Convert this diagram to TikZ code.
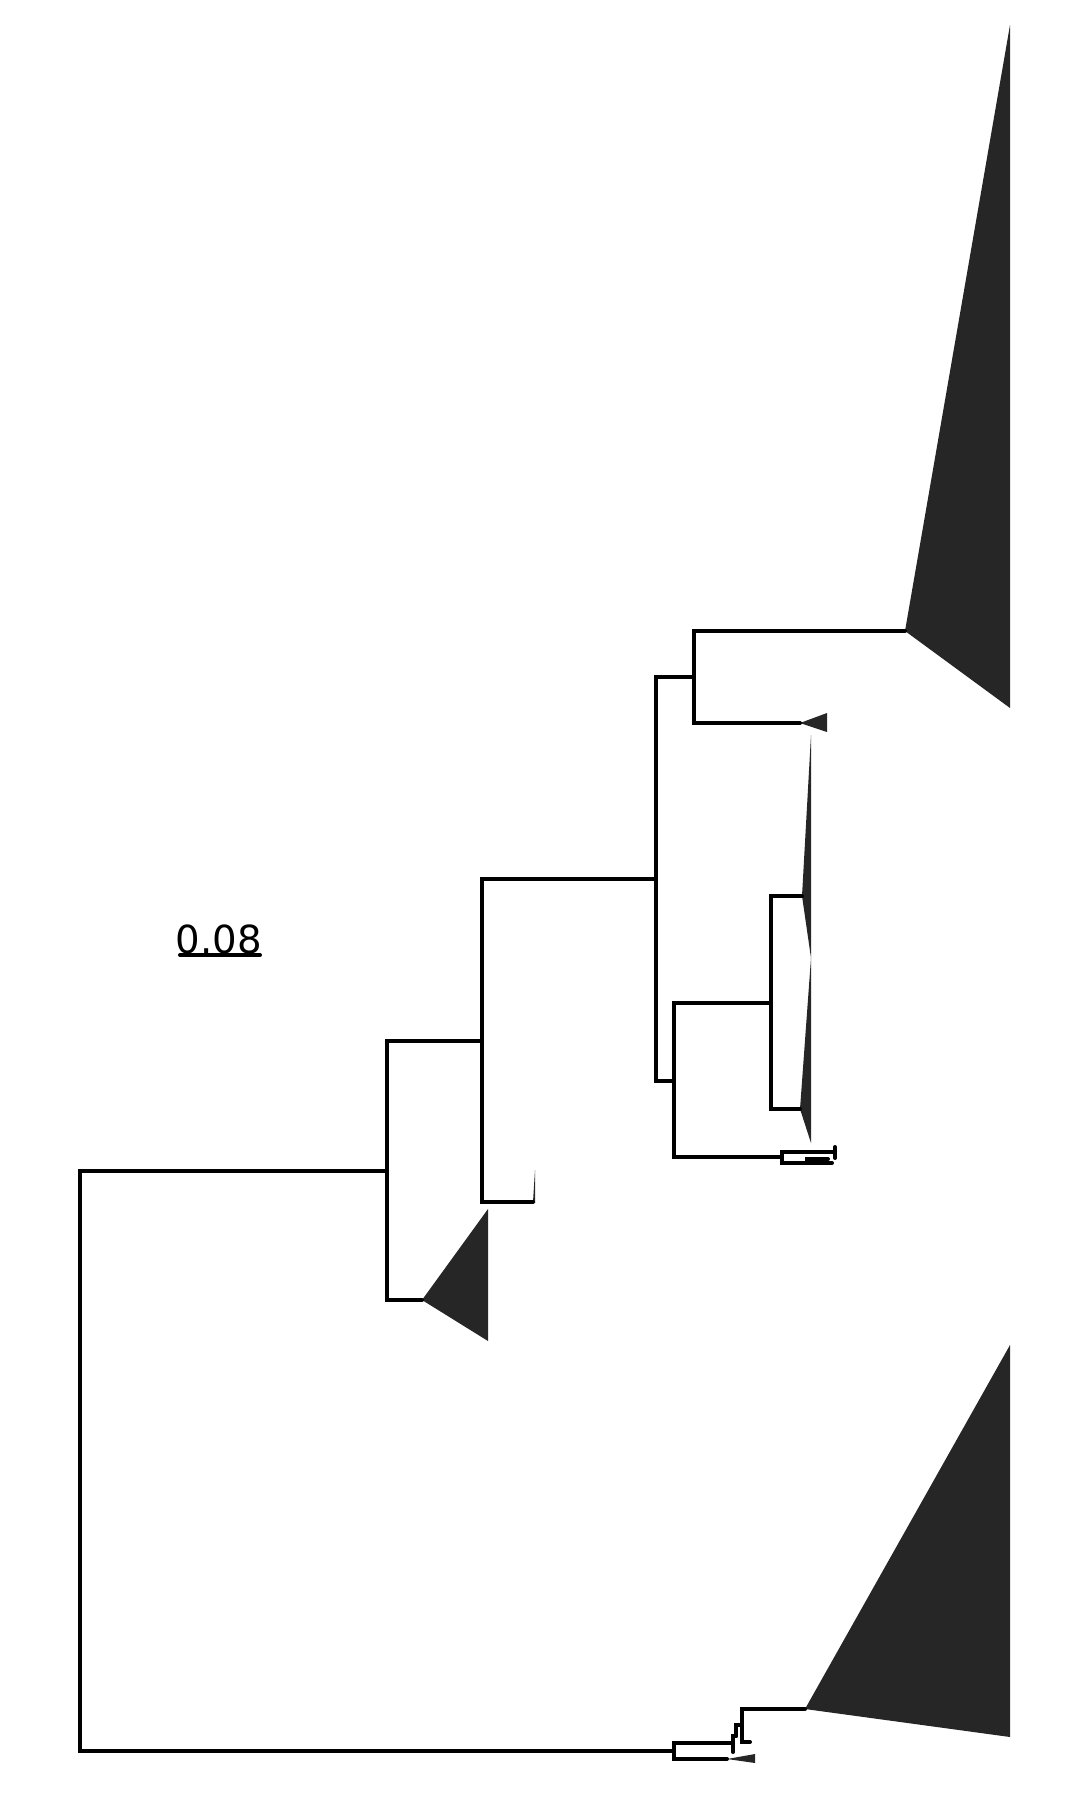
\documentclass[tikz,border=0pt]{standalone}
\usepackage{fontspec}
\setmainfont{DejaVu Sans}
\definecolor{clade}{HTML}{262626}

\begin{document}
\begin{tikzpicture}[x=0.025cm, y=-0.025cm, br/.style={line width=0.1cm, line cap=round}, tri/.style={fill=clade}, lab/.style={font=\fontsize{27.5}{33}\selectfont, inner sep=0pt, anchor=base}]
\useasboundingbox (0,0) rectangle (1080,1800);
% internal nodes
\coordinate (root) at (80,1460);
\coordinate (a) at (387,1171);
\coordinate (b) at (674,1751);
\coordinate (a1) at (482,1041);
\coordinate (a2) at (656,879);
\coordinate (a3) at (694,677);
\coordinate (a4) at (674,1081);
\coordinate (a5) at (771,1003);
\coordinate (a6) at (782,1157);
\coordinate (a7) at (835,1152);
\coordinate (a8) at (807,1163);
\coordinate (b1) at (733,1743);
\coordinate (b2) at (736,1736);
\coordinate (b3) at (742,1725);
% collapsed clades (apex)
\coordinate (t1) at (905,631);
\coordinate (t2) at (800,723);
\coordinate (t3) at (802,896);
\coordinate (t4) at (800,1109);
\coordinate (t5) at (422,1300);
\coordinate (t6) at (533,1202);
\coordinate (t7) at (727,1759);
\coordinate (t8) at (805,1709);
% leaves
\coordinate (l1) at (733,1752);
\coordinate (l2) at (750,1742);
\coordinate (l3) at (828,1159);
\coordinate (l4) at (832,1163);
\coordinate (l5) at (835,1147);
\coordinate (l6) at (835,1158);

\fill[tri] (t1) -- (1010,25) -- (1010,708) -- cycle;
\fill[tri] (t2) -- (827,713) -- (827,732) -- cycle;
\fill[tri] (t3) -- (811,735) -- (811,958) -- cycle;
\fill[tri] (t4) -- (811,958) -- (811,1143) -- cycle;
\fill[tri] (t5) -- (488,1209) -- (488,1341) -- cycle;
\fill[tri] (t6) -- (535,1170) -- (535,1203) -- cycle;
\fill[tri] (t7) -- (755,1754) -- (755,1763) -- cycle;
\fill[tri] (t8) -- (1010,1345) -- (1010,1737) -- cycle;

\draw[br] (root) |- (a);
\draw[br] (root) |- (b);
\draw[br] (a) |- (a1);
\draw[br] (a) |- (t5);
\draw[br] (a1) |- (a2);
\draw[br] (a1) |- (t6);
\draw[br] (a2) |- (a3);
\draw[br] (a2) |- (a4);
\draw[br] (a3) |- (t1);
\draw[br] (a3) |- (t2);
\draw[br] (a4) |- (a5);
\draw[br] (a4) |- (a6);
\draw[br] (a5) |- (t3);
\draw[br] (a5) |- (t4);
\draw[br] (a6) |- (a7);
\draw[br] (a6) |- (a8);
\draw[br] (l5) -- (l6);
\draw[br] (a8) |- (l3);
\draw[br] (a8) |- (l4);
\draw[br] (b) |- (b1);
\draw[br] (b) |- (t7);
\draw[br] (b1) -- (l1);
\draw[br] (b1) |- (b2);
\draw[br] (b2) |- (b3);
\draw[br] (b3) |- (t8);
\draw[br] (b3) |- (l2);

% scale bar
\coordinate (sbl) at (180,955);
\coordinate (sbr) at (260,955);
\draw[br] (sbl) -- (sbr);
\node[lab] (scale) at (219,953) {0.08};
\end{tikzpicture}
\end{document}
